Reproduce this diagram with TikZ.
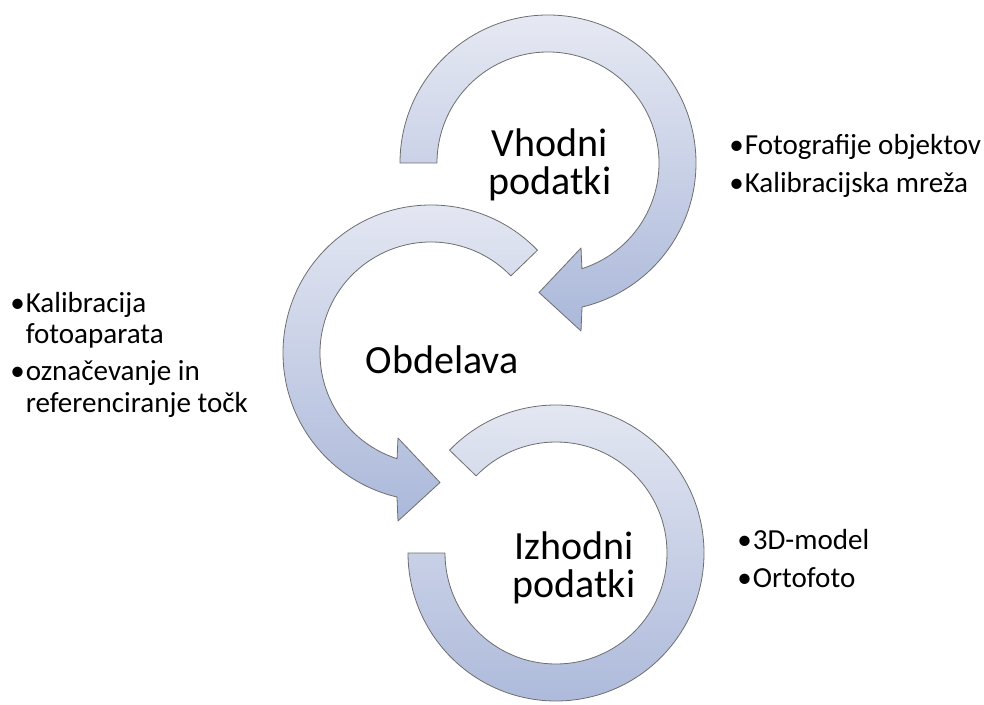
\documentclass[tikz,border=0pt]{standalone}
\usepackage{fontspec}
\setmainfont{Carlito}
\definecolor{ringtop}{HTML}{E6E9F3}
\definecolor{ringbot}{HTML}{ABB8DA}
\definecolor{ringline}{HTML}{6E6E6E}
\tikzset{ring/.style={draw=ringline, line width=0.6pt, top color=ringtop, bottom color=ringbot, line join=round}}
\tikzset{title/.style={align=center, inner sep=0pt, anchor=base, font=\fontsize{30}{28.5}\selectfont}}
\tikzset{items/.style={align=left, inner sep=0pt, anchor=base west, font=\fontsize{21.8}{23.3}\selectfont}}
\newcommand{\bul}{•\kern0.8pt}

\begin{document}
\begin{tikzpicture}[x=0.75pt,y=0.75pt]
\useasboundingbox (0,0) rectangle (984,704);
\coordinate (c1) at (548,541);
\coordinate (c2) at (431,351);
\coordinate (c3) at (556,151);
% rings
\draw[ring,shift={(c1)}] (180:148) arc[start angle=180,end angle=-76.7,radius=148] -- (33,-168) -- (-9,-129.5) -- (33,-85) -- (-72.2:111) arc[start angle=-72.2,end angle=180,radius=111] -- cycle;
\draw[ring,shift={(c2)}] (44:148) arc[start angle=44,end angle=256.7,radius=148] -- (-33,-168) -- (9,-129.5) -- (-33,-85) -- (252.2:111) arc[start angle=252.2,end angle=44,radius=111] -- cycle;
\draw[ring,shift={(c3)}] (136:148) arc[start angle=136,end angle=-180,radius=148] -- (180:111) arc[start angle=-180,end angle=136,radius=111] -- cycle;
% titles (base = last line)
\node[title] (vhodni) at (550,509) {Vhodni\\podatki};
\node[title] (obdelava) at (442,331) {Obdelava};
\node[title] (izhodni) at (574,107) {Izhodni\\podatki};
% lists
\node[items] (vhod) at (729,511) {\bul Fotografije objektov\\[5.2pt]\bul Kalibracijska mreža};
\node[items] (obd) at (10,292) {\bul Kalibracija\\\hphantom{\bul}fotoaparata\\[4.5pt]\bul označevanje in\\\hphantom{\bul}referenciranje točk};
\node[items] (izhod) at (737,117) {\bul 3D-model\\[5.2pt]\bul Ortofoto};
\end{tikzpicture}
\end{document}
